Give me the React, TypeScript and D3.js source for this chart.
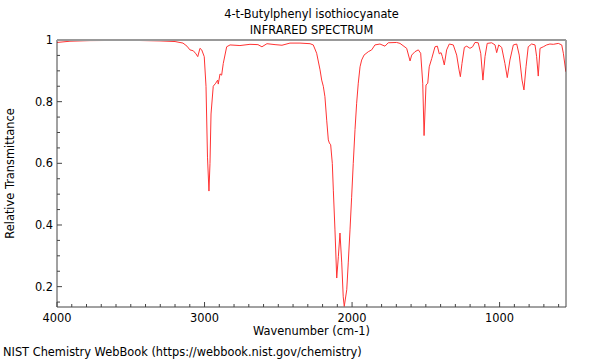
import React, { useEffect, useRef } from "react";
import * as d3 from "d3";

// Spectrum: wavenumber (cm-1) and relative transmittance
const wavenumbers = [
  4000, 3912, 3776, 3505, 3302, 3200, 3146, 3119, 3099, 3076, 3058, 3046, 3031, 3019, 3002,
  2990, 2980, 2970, 2963, 2956, 2941, 2924, 2911, 2907, 2895, 2884, 2873, 2850, 2827, 2760,
  2692, 2638, 2611, 2577, 2522, 2475, 2421, 2353, 2285, 2263, 2240, 2217, 2206, 2195, 2184,
  2172, 2161, 2154, 2145, 2134, 2127, 2116, 2104, 2093, 2082, 2070, 2060, 2053, 2036, 2026,
  2014, 2003, 1992, 1980, 1969, 1958, 1946, 1935, 1919, 1890, 1867, 1845, 1811, 1777, 1755,
  1698, 1675, 1630, 1607, 1596, 1574, 1551, 1535, 1521, 1512, 1499, 1487, 1477, 1460, 1438,
  1422, 1409, 1397, 1388, 1375, 1359, 1341, 1314, 1291, 1275, 1266, 1255, 1239, 1223, 1201,
  1183, 1167, 1145, 1128, 1113, 1099, 1084, 1054, 1031, 1020, 1006, 986, 964, 948, 930,
  907, 884, 867, 848, 835, 821, 806, 783, 760, 749, 738, 726, 704, 681, 659,
  636, 602, 579, 568, 551,
];
const transmittance = [
  0.992, 0.996, 0.998, 0.999, 0.997, 0.995, 0.99, 0.98, 0.968, 0.965, 0.955, 0.946, 0.973, 0.968, 0.946,
  0.85, 0.62, 0.51, 0.6, 0.76, 0.85, 0.86, 0.87, 0.857, 0.89, 0.886, 0.924, 0.978, 0.984, 0.982,
  0.986, 0.985, 0.978, 0.988, 0.985, 0.983, 0.99, 0.99, 0.988, 0.984, 0.957, 0.903, 0.87, 0.85, 0.816,
  0.74, 0.676, 0.666, 0.66, 0.6, 0.513, 0.384, 0.228, 0.297, 0.374, 0.277, 0.167, 0.136, 0.19, 0.277,
  0.384, 0.49, 0.6, 0.71, 0.795, 0.86, 0.913, 0.935, 0.951, 0.962, 0.968, 0.984, 0.987, 0.98, 0.991,
  0.992, 0.989, 0.973, 0.932, 0.951, 0.962, 0.968, 0.957, 0.86, 0.69, 0.854, 0.86, 0.913, 0.94, 0.978,
  0.98, 0.955, 0.959, 0.946, 0.919, 0.968, 0.987, 0.984, 0.951, 0.903, 0.881, 0.924, 0.976, 0.98, 0.973,
  0.978, 0.992, 0.991, 0.957, 0.87, 0.946, 0.989, 0.991, 0.984, 0.959, 0.984, 0.976, 0.924, 0.878, 0.935,
  0.984, 0.987, 0.951, 0.87, 0.838, 0.913, 0.978, 0.987, 0.984, 0.946, 0.883, 0.973, 0.978, 0.984, 0.987,
  0.986, 0.989, 0.984, 0.957, 0.897,
];

const xTicks = [4000, 3000, 2000, 1000];
const yTicks = [0.2, 0.4, 0.6, 0.8, 1];

const App: React.FC = () => {
  const chartRef = useRef<SVGSVGElement>(null);

  useEffect(() => {
    const width = 600;
    const height = 360;
    const margin = { top: 40, right: 34, bottom: 53, left: 57 };
    const font = "DejaVu Sans, sans-serif";
    const fontSize = 11.4;

    const svg = d3.select(chartRef.current);
    svg.selectAll("*").remove();

    const x = d3
      .scaleLinear()
      .domain([4000, 550])
      .range([margin.left, width - margin.right]);

    const y = d3
      .scaleLinear()
      .domain([0.134, 1])
      .range([height - margin.bottom, margin.top]);

    const x0 = margin.left;
    const x1 = width - margin.right;
    const y0 = height - margin.bottom;
    const y1 = margin.top;

    // Spectrum
    const points = wavenumbers.map((w, i) => [w, transmittance[i]] as [number, number]);
    const line = d3
      .line<[number, number]>()
      .x((d) => x(d[0]))
      .y((d) => y(d[1]))
      .curve(d3.curveLinear);

    svg
      .append("clipPath")
      .attr("id", "plot-clip")
      .append("rect")
      .attr("x", x0)
      .attr("y", y1)
      .attr("width", x1 - x0)
      .attr("height", y0 - y1);

    svg
      .append("path")
      .datum(points)
      .attr("clip-path", "url(#plot-clip)")
      .attr("fill", "none")
      .attr("stroke", "#ff3333")
      .attr("stroke-width", 1)
      .attr("d", line);

    // Minor ticks (inside)
    const minorX = d3.range(600, 4000, 100).filter((v) => v % 1000 !== 0);
    svg
      .append("g")
      .selectAll("line")
      .data(minorX)
      .join("line")
      .attr("x1", (d) => x(d))
      .attr("x2", (d) => x(d))
      .attr("y1", y0)
      .attr("y2", y0 - 3)
      .attr("stroke", "#444");

    const minorY = d3.range(0.15, 1.0, 0.05).filter((v) => Math.abs(v * 5 - Math.round(v * 5)) > 0.01);
    svg
      .append("g")
      .selectAll("line")
      .data(minorY)
      .join("line")
      .attr("x1", x0)
      .attr("x2", x0 + 3)
      .attr("y1", (d) => y(d))
      .attr("y2", (d) => y(d))
      .attr("stroke", "#444");

    // Major ticks and labels
    svg
      .append("g")
      .selectAll("line")
      .data(xTicks)
      .join("line")
      .attr("x1", (d) => x(d))
      .attr("x2", (d) => x(d))
      .attr("y1", y0)
      .attr("y2", y0 - 5)
      .attr("stroke", "#444");

    svg
      .append("g")
      .selectAll("text")
      .data(xTicks)
      .join("text")
      .attr("x", (d) => x(d))
      .attr("y", y0 + 15)
      .attr("text-anchor", "middle")
      .attr("font-family", font)
      .attr("font-size", fontSize)
      .text((d) => d);

    svg
      .append("g")
      .selectAll("line")
      .data(yTicks)
      .join("line")
      .attr("x1", x0)
      .attr("x2", x0 + 5)
      .attr("y1", (d) => y(d))
      .attr("y2", (d) => y(d))
      .attr("stroke", "#444");

    svg
      .append("g")
      .selectAll("text")
      .data(yTicks)
      .join("text")
      .attr("x", x0 - 4)
      .attr("y", (d) => y(d) + 4)
      .attr("text-anchor", "end")
      .attr("font-family", font)
      .attr("font-size", fontSize)
      .text((d) => d3.format("")(d));

    // Frame
    svg
      .append("path")
      .attr("d", `M${x0},${y1}V${y0}H${x1}V${y1}`)
      .attr("fill", "none")
      .attr("stroke", "#444");

    svg
      .append("line")
      .attr("x1", x0)
      .attr("x2", x1)
      .attr("y1", y1)
      .attr("y2", y1)
      .attr("stroke", "#999")
      .attr("stroke-width", 2);

    // Titles
    const cx = (x0 + x1) / 2;
    svg
      .append("text")
      .attr("x", cx)
      .attr("y", 18)
      .attr("text-anchor", "middle")
      .attr("font-family", font)
      .attr("font-size", fontSize)
      .text("4-t-Butylphenyl isothiocyanate");

    svg
      .append("text")
      .attr("x", cx)
      .attr("y", 34)
      .attr("text-anchor", "middle")
      .attr("font-family", font)
      .attr("font-size", fontSize)
      .text("INFRARED SPECTRUM");

    svg
      .append("text")
      .attr("x", cx)
      .attr("y", 335)
      .attr("text-anchor", "middle")
      .attr("font-family", font)
      .attr("font-size", fontSize)
      .text("Wavenumber (cm-1)");

    svg
      .append("text")
      .attr("transform", `translate(14,${(y0 + y1) / 2}) rotate(-90)`)
      .attr("text-anchor", "middle")
      .attr("font-family", font)
      .attr("font-size", fontSize)
      .text("Relative Transmittance");

    svg
      .append("text")
      .attr("x", 3)
      .attr("y", 356)
      .attr("font-family", font)
      .attr("font-size", fontSize)
      .text("NIST Chemistry WebBook (https://webbook.nist.gov/chemistry)");
  }, []);

  return (
    <svg
      ref={chartRef}
      width={600}
      height={360}
      style={{ position: "absolute", left: 0, top: 0, background: "#fff" }}
    />
  );
};

export default App;
